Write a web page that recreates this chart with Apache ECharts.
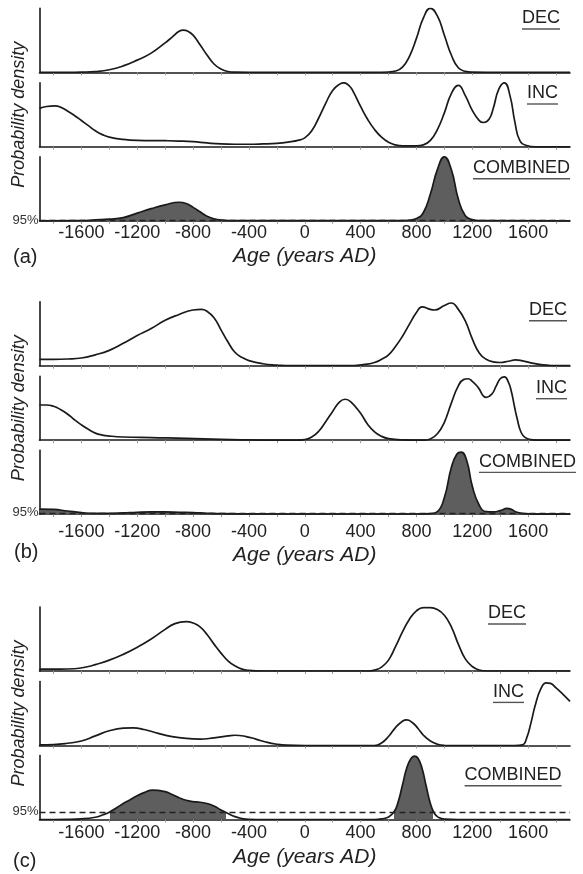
<!DOCTYPE html>
<html><head><meta charset="utf-8">
<script src="https://cdn.jsdelivr.net/npm/echarts@6/dist/echarts.min.js"></script>
<style>html,body{margin:0;padding:0;background:#fff}#c{width:583px;height:874px}</style>
</head><body><div id="c"></div>
<script>
// ---------- data ----------
const xLabelValues = [-1600,-1200,-800,-400,0,400,800,1200,1600];
const xTickValues = [-1800,-1600,-1400,-1200,-1000,-800,-600,-400,-200,0,200,400,600,800,1000,1200,1400,1600,1800];
const rowNames = ['DEC','INC','COMBINED'];
const panelTags = ['(a)','(b)','(c)'];
const thresholdLabel = '95%';
const xTitle = 'Age (years AD)';
const yTitle = 'Probability density';

// panel (a)
const decA = [[-1900,0],[-1700,0],[-1600,0.003],[-1500,0.012],[-1400,0.04],[-1300,0.1],[-1200,0.19],[-1100,0.3],[-1000,0.46],[-950,0.55],[-900,0.64],[-870,0.66],[-840,0.645],[-800,0.58],[-750,0.43],[-700,0.27],[-650,0.13],[-600,0.05],[-550,0.012],[-500,0.002],[-400,0],[500,0],[600,0.005],[650,0.02],[700,0.08],[750,0.25],[800,0.53],[850,0.85],[900,1.0],[950,0.88],[1000,0.58],[1050,0.27],[1100,0.07],[1150,0.015],[1200,0.002],[1300,0],[1900,0]];
const incA = [[-1900,0.6],[-1850,0.63],[-1790,0.64],[-1750,0.62],[-1700,0.56],[-1650,0.49],[-1600,0.41],[-1550,0.33],[-1500,0.25],[-1450,0.19],[-1400,0.15],[-1300,0.115],[-1200,0.1],[-1000,0.095],[-900,0.09],[-800,0.08],[-700,0.06],[-600,0.045],[-500,0.04],[-400,0.04],[-300,0.045],[-200,0.055],[-100,0.08],[-50,0.1],[0,0.14],[50,0.25],[100,0.45],[150,0.68],[200,0.88],[250,0.98],[280,1.0],[320,0.95],[350,0.85],[400,0.63],[450,0.43],[500,0.27],[550,0.15],[600,0.07],[650,0.03],[700,0.015],[800,0.015],[850,0.03],[900,0.1],[950,0.27],[1000,0.53],[1050,0.83],[1100,0.96],[1150,0.8],[1200,0.57],[1250,0.41],[1280,0.38],[1320,0.43],[1350,0.6],[1390,0.9],[1430,1.0],[1470,0.8],[1505,0.39],[1540,0.1],[1590,0.02],[1650,0],[1900,0]];
const combA = [[-1900,0],[-1600,0.002],[-1500,0.013],[-1400,0.025],[-1300,0.05],[-1200,0.12],[-1100,0.19],[-1000,0.25],[-900,0.29],[-850,0.27],[-800,0.21],[-750,0.14],[-700,0.07],[-650,0.03],[-600,0.012],[-500,0.002],[700,0.002],[750,0.012],[800,0.035],[850,0.13],[900,0.42],[950,0.8],[1000,1.0],[1050,0.8],[1100,0.34],[1150,0.08],[1200,0.02],[1250,0.005],[1900,0]];
const thrA = 0.01;
const fillA = [[-1560,-580],[760,1220]];

// panel (b)
const decB = [[-1900,0.1],[-1800,0.1],[-1700,0.105],[-1600,0.12],[-1500,0.17],[-1400,0.24],[-1300,0.35],[-1200,0.47],[-1100,0.58],[-1000,0.71],[-900,0.8],[-800,0.87],[-740,0.88],[-700,0.85],[-650,0.75],[-600,0.56],[-550,0.37],[-500,0.21],[-450,0.13],[-400,0.08],[-300,0.03],[-200,0.01],[-100,0],[300,0],[450,0.025],[500,0.05],[550,0.1],[600,0.17],[650,0.3],[700,0.46],[750,0.65],[800,0.83],[840,0.92],[900,0.88],[930,0.87],[1000,0.94],[1050,0.98],[1100,0.88],[1150,0.7],[1200,0.42],[1250,0.2],[1300,0.1],[1350,0.06],[1400,0.05],[1460,0.07],[1510,0.09],[1560,0.075],[1620,0.045],[1680,0.02],[1750,0.005],[1800,0],[1900,0]];
const incB = [[-1900,0.55],[-1850,0.55],[-1800,0.53],[-1750,0.48],[-1700,0.41],[-1650,0.32],[-1600,0.24],[-1550,0.17],[-1500,0.11],[-1450,0.08],[-1400,0.065],[-1300,0.05],[-1100,0.04],[-850,0.03],[-600,0.012],[-400,0.005],[-100,0],[0,0.01],[50,0.05],[100,0.14],[150,0.29],[200,0.45],[250,0.6],[290,0.64],[330,0.6],[400,0.42],[450,0.25],[500,0.13],[550,0.06],[600,0.025],[700,0.005],[850,0],[900,0.02],[950,0.1],[1000,0.28],[1050,0.58],[1100,0.85],[1140,0.95],[1170,0.96],[1200,0.92],[1240,0.83],[1300,0.67],[1340,0.72],[1370,0.84],[1400,0.96],[1430,0.99],[1460,0.9],[1480,0.76],[1500,0.55],[1520,0.35],[1550,0.12],[1580,0.04],[1620,0.01],[1700,0],[1900,0]];
const combB = [[-1900,0.08],[-1800,0.075],[-1700,0.05],[-1600,0.025],[-1500,0.012],[-1400,0.012],[-1300,0.02],[-1200,0.03],[-1100,0.035],[-1000,0.035],[-900,0.03],[-800,0.025],[-700,0.015],[-600,0.008],[-400,0.005],[0,0.003],[800,0.003],[900,0.01],[950,0.04],[1000,0.26],[1050,0.73],[1090,0.94],[1120,0.97],[1160,0.84],[1200,0.44],[1250,0.14],[1300,0.04],[1350,0.035],[1400,0.055],[1450,0.09],[1480,0.075],[1520,0.03],[1580,0.008],[1650,0.002],[1900,0]];
const thrB = 0.02;
const fillB = [[-1900,-1560],[-1320,-720],[930,1570]];

// panel (c)
const decC = [[-1900,0.03],[-1750,0.03],[-1650,0.035],[-1550,0.07],[-1500,0.1],[-1400,0.17],[-1300,0.26],[-1200,0.37],[-1100,0.5],[-1000,0.65],[-930,0.74],[-850,0.77],[-800,0.75],[-750,0.69],[-700,0.57],[-650,0.42],[-600,0.28],[-550,0.16],[-500,0.08],[-450,0.03],[-400,0.01],[-300,0],[450,0],[500,0.015],[550,0.06],[600,0.17],[650,0.38],[700,0.61],[750,0.81],[800,0.94],[850,0.99],[900,0.99],[950,0.96],[1000,0.87],[1050,0.69],[1100,0.42],[1150,0.19],[1200,0.07],[1250,0.015],[1300,0],[1900,0]];
const incC = [[-1900,0.01],[-1800,0.015],[-1700,0.035],[-1600,0.07],[-1500,0.15],[-1400,0.23],[-1300,0.27],[-1230,0.275],[-1150,0.25],[-1050,0.19],[-950,0.14],[-850,0.11],[-750,0.1],[-650,0.12],[-550,0.15],[-500,0.16],[-420,0.14],[-350,0.1],[-280,0.055],[-200,0.02],[-130,0.005],[0,0],[500,0],[550,0.04],[600,0.14],[650,0.28],[700,0.38],[730,0.4],[770,0.36],[810,0.27],[850,0.16],[900,0.07],[950,0.02],[1000,0.003],[1500,0],[1560,0.01],[1590,0.12],[1620,0.35],[1650,0.62],[1690,0.88],[1730,0.98],[1760,0.97],[1800,0.9],[1850,0.8],[1900,0.69]];
const combC = [[-1900,0],[-1700,0.003],[-1600,0.01],[-1500,0.035],[-1450,0.07],[-1400,0.115],[-1350,0.18],[-1300,0.25],[-1250,0.31],[-1200,0.37],[-1150,0.42],[-1090,0.46],[-1050,0.455],[-1000,0.435],[-950,0.39],[-900,0.34],[-850,0.3],[-800,0.28],[-750,0.27],[-700,0.25],[-650,0.21],[-600,0.15],[-550,0.095],[-500,0.045],[-450,0.015],[-400,0.003],[-300,0],[500,0],[550,0.01],[600,0.04],[640,0.12],[670,0.28],[700,0.54],[730,0.8],[760,0.95],[785,0.99],[810,0.96],[840,0.8],[870,0.52],[900,0.25],[930,0.09],[960,0.03],[1000,0.005],[1100,0],[1900,0]];
const thrC = 0.12;
const fillC = [[-1393,-566],[637,917]];

// ---------- layout ----------
const FONT = '"Liberation Sans", Arial, Helvetica, sans-serif';
const INK = '#1a1a1a';
const GRID_LEFT = 39.5, GRID_RIGHT = 13;
const ROW_OFF = [0, 74.5, 148.5], ROW_H = 64;
const panels = [
  {top: 8.3,  rows:[decA,incA,combA], thr:thrA, fill:fillA, margin:3,  nameGap:25, tag:[13,257],
   labels:[[560,18.3],[558,93.3],[570,168]]},
  {top: 301.7, rows:[decB,incB,combB], thr:thrB, fill:fillB, margin:9, nameGap:30, tag:[14,552],
   labels:[[567,310],[567,388],[576,461.7]]},
  {top: 607,  rows:[decC,incC,combC], thr:thrC, fill:fillC, margin:5, nameGap:27, tag:[13,861],
   labels:[[526,613.3],[524,691.7],[561.6,775]]}
];

const grid = [], xAxis = [], yAxis = [], series = [], visualMap = [], graphic = [];
const ctx = document.createElement('canvas').getContext('2d');
function tw(t, s){ ctx.font = s + 'px ' + FONT; return ctx.measureText(t).width; }

panels.forEach((p, pi) => {
  p.rows.forEach((data, ri) => {
    const gi = grid.length;
    const isComb = ri === 2;
    grid.push({left: GRID_LEFT, right: GRID_RIGHT, top: p.top + ROW_OFF[ri], height: ROW_H});
    xAxis.push({
      gridIndex: gi, type: 'value', min: -1900, max: 1900,
      axisLine: {show: true, onZero: false, lineStyle: {color: INK, width: 1.6}},
      axisTick: {show: true, customValues: xTickValues, length: 3, lineStyle: {color: '#999', width: 1}},
      axisLabel: {show: isComb, customValues: xLabelValues, margin: p.margin, fontSize: 18, fontFamily: FONT, color: '#222',
                  formatter: v => String(v)},
      splitLine: {show: false},
      name: isComb ? xTitle : '', nameLocation: 'middle', nameGap: p.nameGap,
      nameTextStyle: {fontSize: 21, fontStyle: 'italic', fontFamily: FONT, color: '#222'}
    });
    yAxis.push({
      gridIndex: gi, type: 'value', min: 0, max: 1,
      axisLine: {show: true, onZero: false, lineStyle: {color: INK, width: 1.6}},
      axisTick: {show: false}, axisLabel: {show: false}, splitLine: {show: false},
      name: ri === 1 ? yTitle : '', nameLocation: 'middle', nameGap: 12, nameRotate: 90,
      nameTextStyle: {fontSize: 18, fontStyle: 'italic', fontFamily: FONT, color: '#222'}
    });
    if (isComb) {
      const si = series.length;
      series.push({
        type: 'line', xAxisIndex: gi, yAxisIndex: gi, data: data, smooth: 0.5,
        showSymbol: false, symbol: 'none', lineStyle: {width: 0}, areaStyle: {opacity: 1},
        silent: true, z: 2
      });
      visualMap.push({
        type: 'piecewise', show: false, seriesIndex: si, dimension: 0,
        pieces: p.fill.map(r => ({gte: r[0], lte: r[1], color: '#5e5e5e'})),
        outOfRange: {color: 'rgba(0,0,0,0)'}
      });
    }
    series.push({
      type: 'line', xAxisIndex: gi, yAxisIndex: gi, data: data, smooth: 0.5,
      showSymbol: false, symbol: 'none', lineStyle: {color: INK, width: 1.7}, z: 3,
      markLine: isComb ? {
        silent: true, symbol: 'none', animation: false,
        lineStyle: {color: '#222', width: 1.4, type: [6, 4]},
        label: {show: true, position: 'start', formatter: thresholdLabel, fontSize: 13, fontFamily: FONT, color: '#333', distance: 1},
        data: [{yAxis: p.thr}]
      } : undefined
    });
    const [rx, ry] = p.labels[ri];
    const name = rowNames[ri];
    const w = tw(name, 18);
    graphic.push({type: 'text', style: {text: name, x: rx, y: ry, align: 'right', verticalAlign: 'middle', fontSize: 18, fontFamily: FONT, fill: '#222'}});
    graphic.push({type: 'rect', shape: {x: rx - w, y: ry + 10, width: w, height: 1.4}, style: {fill: '#555'}});
  });
  graphic.push({type: 'text', style: {text: panelTags[pi], x: p.tag[0], y: p.tag[1], align: 'left', verticalAlign: 'middle', fontSize: 20, fontFamily: FONT, fill: '#222'}});
});

const chart = echarts.init(document.getElementById('c'), null, {renderer: 'canvas'});
chart.setOption({animation: false, backgroundColor: '#fff', grid, xAxis, yAxis, series, visualMap, graphic});
</script>
</body></html>
